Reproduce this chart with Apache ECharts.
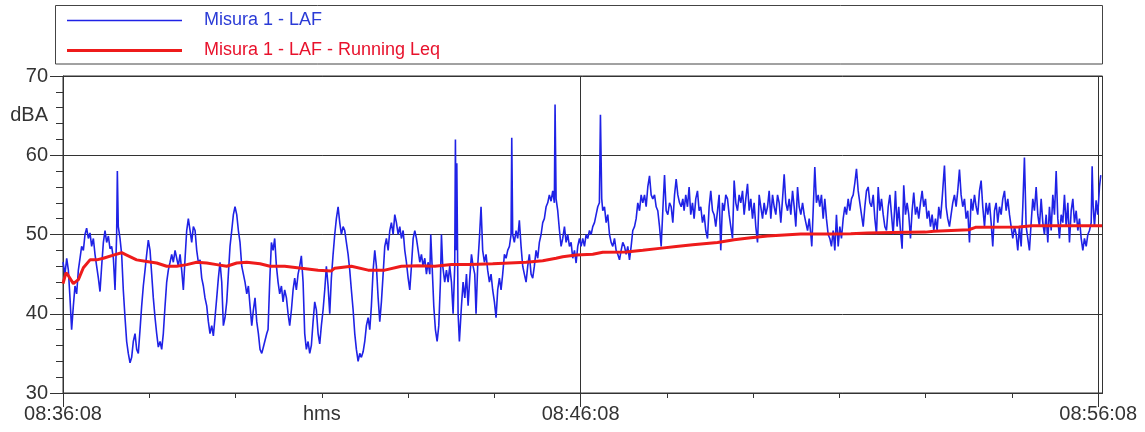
<!DOCTYPE html>
<html><head><meta charset="utf-8">
<script src="https://cdn.jsdelivr.net/npm/echarts@6/dist/echarts.min.js"></script>
<style>html,body{margin:0;padding:0;background:#fff}#c{width:1145px;height:432px}</style>
</head><body><div id="c"></div>
<script>
// seconds after 08:36:08, dBA
const lafData = [
[0,46.5],[2.3,45],[4.3,47],[6.2,45.5],[8.1,42],[10,38],[12,41],[13.9,43.5],[15.8,42.5],[17.8,45.5],[19.7,47],[21.6,48.5],[23.6,48],[25.5,50],[27.4,50.8],[29.4,49.5],[31.3,50.2],[33.2,48.5],[35.2,49.5],[37.1,47.5],[39,46],[41,44.5],[42.9,42.8],[44.8,46],[46.8,49],[48.7,50.5],[50.6,49],[52.6,49.8],[54.5,48.2],[56.4,48.5],[58.4,47],[60.3,43],[62.2,50],[63,58],[64.1,51],[66.1,49.5],[68,47.5],[69.9,43],[71.9,39.5],[73.8,36.5],[75.7,35],[77.7,33.8],[79.6,34.5],[81.5,36.5],[83.5,37.5],[85.4,35.5],[87.3,35],[89.3,38],[91.2,41],[93.1,43.5],[95.1,45.5],[97,47.5],[98.9,49.3],[100.9,48],[102.8,45],[104.7,42],[106.7,39.5],[108.6,37.5],[110.5,35.8],[112.5,36.5],[114.4,35.5],[116.3,37.5],[118.3,41],[120.2,44],[122.1,45.5],[124.1,46.5],[126,47.5],[127.9,46.5],[129.9,48],[131.8,47],[133.7,46],[135.7,47.5],[137.6,45.5],[139.5,43],[141.5,47],[143.4,50.5],[145.3,52],[147.3,50.5],[149.2,49],[151.1,51],[153.1,50.5],[155,48],[156.9,46.5],[158.9,46.8],[160.8,44.5],[162.7,43.5],[164.6,42],[166.6,41],[168.5,39],[170.4,37.5],[172.4,38.5],[174.3,37.2],[176.2,39.5],[178.2,42],[180.1,44.5],[182,46.5],[184,44],[185.9,38.5],[187.8,39.5],[189.8,41.5],[191.7,45],[193.6,48.5],[195.6,50.5],[197.5,52.5],[199.4,53.5],[201.4,52.5],[203.3,50.5],[205.2,49],[207.2,46],[209.1,45],[211,44],[213,42.5],[214.9,43.5],[216.8,41],[218.8,38.5],[220.7,40.5],[222.6,42],[224.6,39],[226.5,37.5],[228.4,35.5],[230.4,35],[232.3,35.8],[234.2,36],[236.2,37.5],
[237.7,38],[239.6,44],[241.6,49],[243.5,48],[245.4,49.5],[247.4,46],[249.3,44],[251.2,42.5],[253.2,43.5],[255.1,41.5],[257,43],[259,42],[260.9,40],[262.8,38.5],[264.8,40.5],[266.7,43],[268.6,44.5],[270.5,43],[272.5,45],[274.4,46],[276.3,47.3],[278.3,44],[280.2,37.5],[282.1,35.5],[284.1,36.5],[286,35],[287.9,36],[289.9,39],[291.8,41.5],[293.7,40.5],[295.7,37.5],[297.6,36.2],[299.5,38.5],[301.5,40.5],[303.4,43],[305.3,46],[307.3,43.5],[309.2,40],[311.1,44.5],[313.1,47.5],[315,50],[316.9,52],[318.9,53.5],[320.8,51.5],[322.7,50],[324.7,51],[326.6,50.5],[328.5,49],[330.5,47.5],[332.4,45.5],[334.3,43],[336.3,40.5],[338.2,37.5],[340.1,35.5],[342.1,34],[344,35],[345.9,34.5],[347.9,35.2],[349.8,36.5],[351.7,38.5],[353.7,39.5],[355.6,38],[357.5,41],[359.5,45.5],[361.4,48],[363.3,46],[365.3,42],[367.2,39],[369.1,41.5],[371.1,45],[373,48.5],[374.9,49.5],[376.9,48],[378.8,50.5],[380.7,51.5],[382.7,50],[384.6,52.5],[386.5,51.5],[388.5,50],[390.4,51],[392.3,49.5],[394.3,50.5],[396.2,48],[398.1,46.5],[400.1,44.5],[402,43],[403.9,46],[405.9,49.5],[407.8,50.5],[409.7,49.5],[411.7,48],[413.6,46.5],[415.5,47.5],[417.4,46],[419.4,47],[421.3,45],[423.2,46.5],[425.2,45],[426.3,50],[427.9,46],[429.8,41],[431.7,38],[433.7,36.5],[435.6,38.5],[437.5,44],[438.7,50],[440.2,46],[442.5,44],[444.5,45.5],[446.4,44],[448.3,46],[450.3,44],[452.2,40],[454.1,46],[454.9,62],[455.7,48],[456.5,59],[458,40],[459.5,36.5],[461.9,41],[463.8,44],[465.8,42],[467.7,45],[469.6,41],[471.5,44.5],[473.5,47.5],[475.4,46],[477.3,45],
[478.8,40],[480.7,46],[482.7,49.5],[484.6,53.5],[486.5,48],[488.5,46.5],[490.4,47.5],[492.3,45.5],[494.3,44],[496.2,45],[498.1,43],[500.1,41.5],[502,39.5],[503.9,43],[505.9,44.5],[507.8,43],[509.7,45],[511.7,47.5],[513.6,47],[515.5,48],[517.5,48.5],[519.4,50],[520.2,62.2],[521.3,50],[523.2,49],[525.2,50.5],[527.1,49.5],[529,51.8],[531,48.5],[532.9,46],[534.8,45],[536.8,44],[538.7,46],[540.6,47.5],[542.6,45],[544.5,44.5],[546.4,46],[548.4,48],[550.3,47],[552.2,49],[554.2,50],[556.1,51.5],[558,52],[560,53.5],[561.9,54],[563.8,55],[565.8,54.2],[567.7,55.5],[569.6,54],[570.4,66.4],[571.6,54.5],[573.5,53],[575.5,50.5],[577.4,48.5],[579.3,49.5],[581.3,51],[583.2,49],[585.1,50],[587.1,48.5],[589,49],[590.9,47],[592.9,48],[594.8,46.4],[596.7,48.5],[598.7,49.5],[600.6,48.5],[602.5,49.5],[604.5,48.5],[606.4,50],[608.3,49.5],[610.3,50.5],[612.2,50],[614.1,51],[616.1,51.5],[618,52.5],[619.9,53.5],[621.8,54],[623,65.1],[624.5,54.5],[625.7,53],[627.7,53.5],[629.6,51.5],[631.5,52.5],[633.5,50],[635.4,49],[637.3,48.5],[639.3,49.5],[641.2,48],[643.1,47.5],[645.1,46.8],[647,48],[648.9,49],[650.9,48.5],[652.8,47.5],[654.7,48.5],[656.7,46.8],[658.6,48.5],[660.5,50.5],[662.5,51],[664.4,52],[666.3,54],[668.3,53],[670.2,55],[672.1,54],[674.1,55],[676,53.5],[677.9,56],[679.9,57.4],[681.8,55],[683.7,54.5],[685.7,55],[687.6,53.5],[689.5,53],[691.5,51],[693.4,48.5],[695.3,53],[697.3,57.5],[699.2,53],[701.1,52.5],[703.1,54],[705,53.5],[706.9,51.5],[708.9,55],[710.8,57],[712.7,55],[714.7,54],[716.6,53.5],[718.5,54.5],
[720,53],[721.9,55],[723.9,53.5],[725.8,56],[727.7,52.5],[729.7,54],[731.6,52],[733.5,54.5],[735.5,55.5],[737.4,53],[739.3,53.5],[741.3,51.5],[743.2,52.5],[745.1,50.5],[747.1,49.5],[749,53.5],[750.9,55.5],[752.9,53],[754.8,52.5],[756.7,51],[758.7,53],[760.6,55],[762.5,48],[764.5,54],[766.4,53],[768.3,55],[770.3,54.5],[772.2,52.5],[774.1,51],[776.1,49.5],[778,56.8],[779.9,54],[781.9,53],[783.8,55],[785.7,54],[787.7,55.5],[789.6,52.5],[791.5,54.5],[793.5,56.4],[795.4,53],[797.3,54.5],[799.3,52],[801.2,54],[803.1,51],[805.1,49],[807,55],[808.9,53.5],[810.9,52],[812.8,54],[814.7,52.5],[816.7,53.5],[818.6,55.5],[820.5,52],[822.5,55],[824.4,53.5],[826.3,52.5],[828.3,55],[830.2,54],[832.1,51.5],[834.1,54.5],[836,57.6],[837.9,54],[839.9,53],[841.8,54.5],[843.7,52.5],[845.7,55.5],[847.6,53.5],[849.5,51],[851.5,56],[853.4,53.5],[855.3,52.5],[857.3,54],[859.2,52.5],[861.1,51.5],[863.1,50.5],[865,52],[866.9,50],[868,48.5],[869.6,53],[871.5,58.5],[873.4,54],[875.4,55],[877.3,53.5],[879.2,55],[881.2,52],[883.1,54.5],[885,52],[887,50],[888.9,49.5],[890.8,48.5],[892.8,50.5],[894.7,48],[896.6,52.5],[898.6,48.5],[900.5,51],[902.4,49.5],[904.4,52],[906.3,53.5],[908.2,52.5],[910.2,54.5],[912.1,53],[914,54.5],[916,55],[917.9,56.5],[919.8,58.3],[921.8,55.5],[923.7,54],[925.6,52.5],[927.6,51],[929.5,53.5],[931.4,55.5],[933.4,56],[935.3,54],[937.2,53.5],[939.2,55],[941.1,52],[943,50],[945,56],[946.9,53],[948.8,54.5],[950.8,52.5],[952.7,51],[954.6,50.5],[956.6,53.5],[958.5,55],[960.4,52.5],
[962.3,50],[963.9,53],[965,55.5],[966.9,51],[968.8,53.5],[970.8,50.5],[972.7,48.2],[974.6,56.2],[976.6,52.5],[978.5,54],[980.4,52.5],[982.4,49.5],[984.3,53],[986.2,55.3],[988.2,52.5],[990.1,53.5],[992,52],[994,54],[995.9,55.5],[997.8,53.5],[999.8,54.5],[1001.7,52],[1003.6,53],[1005.6,51],[1007.5,52.5],[1009.4,50.5],[1011.4,52],[1013.3,50.5],[1015.2,53.5],[1017.2,52],[1019.1,54.5],[1021.8,58.7],[1023.7,53.5],[1025.6,52],[1027.6,51],[1029.5,52.5],[1031.4,54],[1033.4,55],[1035.3,53.5],[1037.2,55.5],[1039.2,58.2],[1041.1,55],[1043,53.5],[1045,54.5],[1046.9,52],[1048.8,53],[1050.8,49],[1052.7,54.5],[1054.6,53],[1056.6,55],[1058.5,53.5],[1060.4,52.5],[1062.4,55.5],[1064.3,56.8],[1066.2,53.5],[1068.2,51],[1070.1,54],[1072,52.5],[1074,54],[1075.9,51.5],[1077.8,48.5],[1079.8,53],[1081.7,54],[1083.6,51.5],[1085.6,53.5],[1087.5,52.5],[1089.4,54.5],[1091.4,55.5],[1093.3,53],[1095.2,54.5],[1097.2,52.5],[1099.1,51],[1101,49.5],[1103,51],[1104.9,50],[1106.8,48],[1108.7,51],[1110.7,48.5],[1112.6,53.5],[1114.5,59.7],[1116.5,51],[1118.4,49.5],[1120.3,48],[1122.3,51.5],[1124.2,54.5],[1126.1,53],[1128.1,56],[1130,52.5],[1131.9,51],[1133.9,54.5],[1135.8,51.5],[1137.7,50],[1139.7,52.5],[1141.6,49],[1143.5,53.5],[1145.5,50.5],[1147.4,55],[1149.3,52.5],[1151.3,58],[1153.2,52],[1155.1,49.5],[1157.1,52.5],[1159,51.5],[1160.9,55],[1162.9,51],[1164.8,54],[1166.7,49],[1168.7,53],[1170.6,54.5],[1172.5,51.5],[1174.5,53],[1176.4,50.5],[1178.3,52],[1180.3,49.5],[1182.2,48],[1184.1,49.5],[1186.1,48.5],[1188,50],[1189.9,50.5],[1191.9,51.5],[1193,58.6],[1194.2,53.5],[1195.7,51],[1197.6,54.3],[1199.5,52.5],[1201.5,56],[1203,57.5]
];
const leqData = [
[0,43.8],[3.5,45.2],[6.2,44.8],[12,43.8],[17.8,44.3],[23.6,45.8],[31.3,46.8],[39,46.8],[46.8,47],[58.4,47.4],[68,47.7],[73.8,47.4],[85.4,46.8],[97,46.6],[108.6,46.4],[120.2,46],[131.8,46],[143.4,46.2],[155,46.5],[166.6,46.4],[178.2,46.2],[189.8,46],[201.4,46.4],[213,46.5],[228.4,46.3],[240,46],[257,46],[276.4,45.75],[295.7,45.5],[311.1,45.4],[315,45.75],[334.3,46],[353.7,45.5],[373,45.5],[392.3,46],[411.6,46.05],[431,46],[450.3,46.2],[469.6,46.2],[481.3,46.25],[498.1,46.3],[517.5,46.4],[536.8,46.5],[556.1,46.7],[571.6,47],[579.3,47.2],[594.8,47.4],[614.1,47.5],[625.7,47.75],[652.8,47.8],[672.1,48],[691.5,48.25],[710.8,48.5],[730,48.7],[758.7,49],[778,49.35],[797.3,49.6],[816.7,49.8],[836,49.95],[855.3,50.05],[874.6,50.05],[893.9,50.05],[913.2,50.1],[932.6,50.2],[961.1,50.25],[999.8,50.3],[1009.4,50.4],[1011.3,50.55],[1050,50.6],[1057.7,50.9],[1108,50.95],[1123.4,51.1],[1204.6,51.1]
];
const seriesNames = ['Misura 1 - LAF', 'Misura 1 - LAF - Running Leq'];
const xLabelSeconds = [0, 300, 600, 1200];
const xLabelTexts = ['08:36:08', 'hms', '08:46:08', '08:56:08'];
const xMinorTickSeconds = [0,100,200,300,400,500,600,700,800,900,1000,1100,1200];
const xMajorTickSeconds = [0, 600, 1200];
const yLabelValues = [30, 40, 50, 60, 65, 70];
const yUnit = 'dBA';

const FONT = 'Liberation Sans, Arial, sans-serif';
const BLUE = '#1f22e6', RED = '#ee1b1b';
const chart = echarts.init(document.getElementById('c'), null, {renderer: 'canvas'});
const legendCommon = {
  orient: 'vertical', left: 67, padding: 0, icon: 'rect',
  itemWidth: 115, selectedMode: false,
  textStyle: {fontSize: 18, fontFamily: FONT, lineHeight: 20, padding: [0, 0, 0, 17]}
};
chart.setOption({
  animation: false,
  backgroundColor: '#fff',
  textStyle: {fontFamily: FONT},
  graphic: [{
    type: 'rect', silent: true, z: 0,
    shape: {x: 55.5, y: 5.5, width: 1047, height: 58.5},
    style: {fill: 'none', stroke: '#444', lineWidth: 1}
  }],
  legend: [
    Object.assign({}, legendCommon, {top: 10.5, itemHeight: 1.6,
      data: [{name: seriesNames[0], textStyle: {color: '#2b3bd6'}}]}),
    Object.assign({}, legendCommon, {top: 40.5, itemHeight: 3,
      data: [{name: seriesNames[1], textStyle: {color: '#e8122c'}}]})
  ],
  grid: {left: 63, right: 42.5, top: 76, bottom: 39, show: true, borderColor: '#333', borderWidth: 1, backgroundColor: 'transparent'},
  xAxis: [{
    type: 'value', min: 0, max: 1205, interval: 100,
    axisLine: {show: true, lineStyle: {color: '#333', width: 1}},
    axisTick: {show: true, length: 5, customValues: xMinorTickSeconds, lineStyle: {color: '#333'}},
    axisLabel: {
      show: true, customValues: xLabelSeconds, margin: 11, fontSize: 20, color: '#333', fontFamily: FONT,
      formatter: v => { const i = xLabelSeconds.indexOf(v); return i >= 0 ? xLabelTexts[i] : ''; }
    },
    splitLine: {show: false}
  }, {
    type: 'value', min: 0, max: 1205, interval: 600, position: 'bottom',
    axisLine: {show: false},
    axisTick: {show: true, length: 14, customValues: xMajorTickSeconds, lineStyle: {color: '#333'}},
    axisLabel: {show: false},
    splitLine: {show: true, lineStyle: {color: '#333', width: 1}}
  }],
  yAxis: {
    type: 'value', min: 30, max: 70, interval: 10,
    axisLine: {show: true, lineStyle: {color: '#333', width: 1}},
    axisTick: {show: true, length: 13, lineStyle: {color: '#333'}},
    minorTick: {show: true, splitNumber: 5, length: 7, lineStyle: {color: '#333'}},
    axisLabel: {
      customValues: yLabelValues, margin: 15, fontSize: 20, color: '#333', fontFamily: FONT,
      formatter: v => v === 65 ? yUnit : String(v)
    },
    splitLine: {show: true, lineStyle: {color: '#333', width: 1}}
  },
  series: [{
    name: seriesNames[0], type: 'line', data: lafData, xAxisIndex: 0,
    symbol: 'none', showSymbol: false, z: 3,
    lineStyle: {color: BLUE, width: 1.6}, itemStyle: {color: BLUE}
  }, {
    name: seriesNames[1], type: 'line', data: leqData, xAxisIndex: 0,
    symbol: 'none', showSymbol: false, z: 4,
    lineStyle: {color: RED, width: 3}, itemStyle: {color: RED}
  }]
});
</script></body></html>
